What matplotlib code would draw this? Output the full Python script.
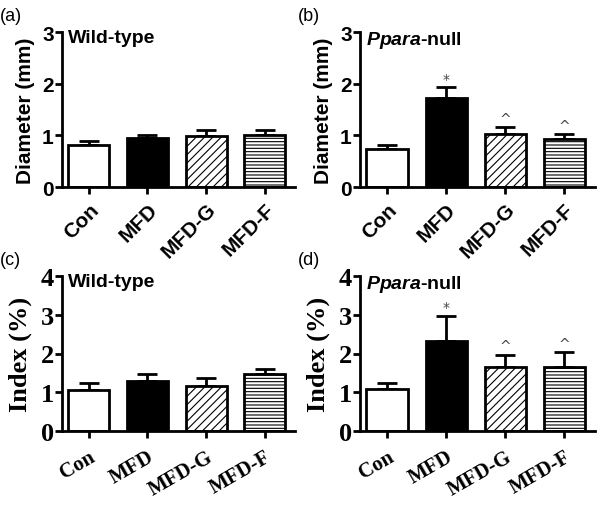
import numpy as np
import matplotlib.pyplot as plt

groups = ['Con', 'MFD', 'MFD-G', 'MFD-F']

# diameter (mm)
diam_wt = [0.81, 0.94, 0.99, 1.00]
diam_wt_err = [0.08, 0.07, 0.11, 0.10]
diam_ko = [0.73, 1.72, 1.02, 0.92]
diam_ko_err = [0.09, 0.21, 0.14, 0.10]
diam_ko_marks = ['', '*', '^', '^']

# index (%)
idx_wt = [1.07, 1.28, 1.16, 1.48]
idx_wt_err = [0.16, 0.20, 0.20, 0.12]
idx_ko = [1.09, 2.33, 1.65, 1.65]
idx_ko_err = [0.15, 0.65, 0.32, 0.38]
idx_ko_marks = ['', '*', '^', '^']

colors = ['white', 'black', 'white', 'white']
hatches = [None, None, '////', '-----']

plt.rcParams['hatch.linewidth'] = 0.8
plt.rcParams['mathtext.fontset'] = 'custom'
plt.rcParams['mathtext.bfit'] = 'Liberation Sans:italic:bold'

fig = plt.figure(figsize=(6, 5.06), dpi=100)
W, H = 600, 506


def panel(rect, vals, errs, ymax, ylabel, title, label, serif, marks=None):
    l, t, r, b = rect
    ax = fig.add_axes([l / W, 1 - b / H, (r - l) / W, (b - t) / H])
    x = np.arange(len(groups))
    ax.bar(x, vals, width=0.7, color=colors, edgecolor='black', linewidth=2,
           hatch=hatches, zorder=2)
    ax.errorbar(x, vals, yerr=[np.zeros(len(vals)), errs], fmt='none',
                ecolor='black', elinewidth=2, capsize=7, capthick=2, zorder=1)
    ax.set_xlim(-0.46, 3.52)
    ax.set_ylim(0, ymax)
    ax.set_yticks(range(ymax + 1))
    for s in ['top', 'right']:
        ax.spines[s].set_visible(False)
    for s in ['left', 'bottom']:
        ax.spines[s].set_linewidth(2)
    ax.tick_params(width=2, length=5)
    ax.set_xticks(x)
    if serif:
        fam = 'Liberation Serif'
        ax.set_xticklabels(groups, rotation=30, ha='right', rotation_mode='anchor',
                           family=fam, fontweight='bold', fontsize=15)
        ax.tick_params(axis='x', pad=6)
        ysize, lsize, lpad = 19, 19, 6
    else:
        fam = 'Liberation Sans'
        ax.set_xticklabels(groups, rotation=45, ha='right', rotation_mode='anchor',
                           family=fam, fontweight='bold', fontsize=15)
        ax.tick_params(axis='x', pad=4)
        ysize, lsize, lpad = 15, 15, 5
    for tl in ax.get_yticklabels():
        tl.set_family(fam)
        tl.set_fontweight('bold')
        tl.set_fontsize(ysize)
    ax.tick_params(axis='y', pad=1)
    ax.set_ylabel(ylabel, family=fam, fontweight='bold', fontsize=lsize, labelpad=lpad)
    ax.text(0.025, 1.02, title, transform=ax.transAxes, fontsize=14,
            fontweight='bold', va='top', family='Liberation Sans')
    fig.text((l - 62) / W, 1 - (t - 25) / H, label, fontsize=13,
             family='Liberation Sans', va='top')
    if marks:
        for xi, v, e, m in zip(x, vals, errs, marks):
            if m:
                ax.text(xi, v + e + ymax * 0.01, m, ha='center', va='bottom',
                        fontsize=10, color='#444444')
    return ax


panel((62, 33, 295, 188), diam_wt, diam_wt_err, 3, 'Diameter (mm)', 'Wild-type', '(a)', False)
panel((360, 33, 595, 188), diam_ko, diam_ko_err, 3, 'Diameter (mm)',
      r'$\mathbfit{Ppara}$-null', '(b)', False, diam_ko_marks)
panel((62, 277, 295, 432), idx_wt, idx_wt_err, 4, 'Index (%)', 'Wild-type', '(c)', True)
panel((360, 277, 595, 432), idx_ko, idx_ko_err, 4, 'Index (%)',
      r'$\mathbfit{Ppara}$-null', '(d)', True, idx_ko_marks)

fig.savefig('out.png', dpi=100)
